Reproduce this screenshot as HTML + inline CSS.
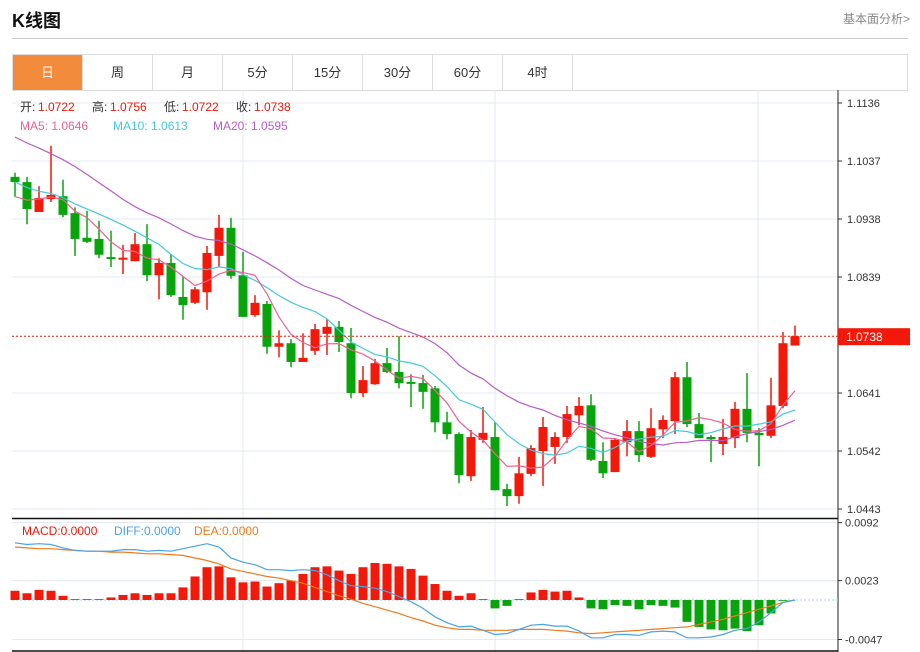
<!DOCTYPE html>
<html><head><meta charset="utf-8"><style>
body{margin:0;width:920px;height:652px;overflow:hidden;background:#fff;font-family:"Liberation Sans","Noto Sans CJK SC",sans-serif;position:relative}
.t{position:absolute}
#title{left:12px;top:7px;font-size:18px;font-weight:bold;color:#111}
#more{right:10px;top:10px;font-size:12px;color:#888}
#hr{left:12px;top:38px;width:896px;height:1px;background:#ccc}
#tabs{left:12px;top:54px;width:894px;height:35px;border:1px solid #ddd;display:flex}
.tab{width:69px;border-right:1px solid #ddd;text-align:center;line-height:35px;font-size:13px;color:#333}
.tab.on{background:#f28c3c;color:#fff}
svg{position:absolute;left:0;top:0}
</style></head><body>
<div class="t" id="title">K线图</div>
<div class="t" id="more">基本面分析&gt;</div>
<div class="t" id="hr"></div>
<div class="t" id="tabs">
<div class="tab on">日</div>
<div class="tab">周</div>
<div class="tab">月</div>
<div class="tab">5分</div>
<div class="tab">15分</div>
<div class="tab">30分</div>
<div class="tab">60分</div>
<div class="tab">4时</div>
</div>
<svg id="chart" width="920" height="652"></svg>
<script>
const opens=[1.1010,1.1001,1.0950,1.0972,1.0977,1.0948,1.0906,1.0904,1.0873,1.0871,1.0866,1.0895,1.0842,1.0863,1.0805,1.0795,1.0813,1.0875,1.0923,1.0842,1.0774,1.0793,1.0720,1.0726,1.0694,1.0713,1.0742,1.0754,1.0726,1.0641,1.0656,1.0692,1.0677,1.0660,1.0658,1.0649,1.0591,1.0571,1.0499,1.0561,1.0566,1.0477,1.0465,1.0503,1.0542,1.0549,1.0566,1.0603,1.0620,1.0525,1.0506,1.0557,1.0576,1.0532,1.0579,1.0593,1.0668,1.0588,1.0566,1.0554,1.0564,1.0614,1.0573,1.0568,1.0619,1.0722];
const highs=[1.1017,1.1010,1.0994,1.1063,1.1005,1.0958,1.0952,1.0935,1.0918,1.0894,1.0914,1.0929,1.0871,1.0878,1.0839,1.0822,1.0892,1.0945,1.0940,1.0882,1.0808,1.0798,1.0748,1.0733,1.0743,1.0759,1.0767,1.0764,1.0752,1.0687,1.0699,1.0718,1.0738,1.0673,1.0672,1.0653,1.0609,1.0574,1.0578,1.0617,1.0591,1.0486,1.0532,1.0552,1.0600,1.0574,1.0619,1.0634,1.0639,1.0557,1.0564,1.0595,1.0593,1.0615,1.0603,1.0677,1.0694,1.0607,1.0569,1.0597,1.0626,1.0675,1.0581,1.0667,1.0745,1.0756];
const lows=[1.0976,1.0929,1.0950,1.0967,1.0941,1.0875,1.0897,1.0871,1.0856,1.0844,1.0866,1.0832,1.0801,1.0805,1.0766,1.0793,1.0783,1.0856,1.0836,1.0771,1.0771,1.0708,1.0702,1.0685,1.0694,1.0706,1.0706,1.0711,1.0632,1.0634,1.0655,1.0675,1.0649,1.0617,1.0614,1.0574,1.0562,1.0487,1.0491,1.0556,1.0475,1.0448,1.0452,1.0499,1.0482,1.0520,1.0556,1.0586,1.0525,1.0496,1.0506,1.0533,1.0523,1.0530,1.0564,1.0571,1.0583,1.0564,1.0523,1.0535,1.0547,1.0557,1.0516,1.0564,1.0615,1.0722];
const closes=[1.1001,1.0955,1.0974,1.0979,1.0945,1.0904,1.0899,1.0877,1.0870,1.0872,1.0895,1.0842,1.0863,1.0808,1.0791,1.0818,1.0880,1.0923,1.0841,1.0771,1.0795,1.0720,1.0726,1.0694,1.0701,1.0750,1.0754,1.0728,1.0641,1.0663,1.0692,1.0677,1.0658,1.0658,1.0643,1.0591,1.0571,1.0501,1.0566,1.0573,1.0475,1.0465,1.0504,1.0547,1.0583,1.0566,1.0605,1.0619,1.0527,1.0504,1.0561,1.0576,1.0535,1.0581,1.0595,1.0668,1.0588,1.0564,1.0562,1.0566,1.0614,1.0573,1.0569,1.0620,1.0726,1.0738];
const priorCloses=[1.1160,1.1148,1.1170,1.1152,1.1140,1.1165,1.1158,1.1150,1.1162,1.1145,1.1050,1.1035,1.1020,1.1015,1.1010,1.0985,1.0965,1.0960,1.0970];
const priceTicks=[1.1136,1.1037,1.0938,1.0839,1.0641,1.0542,1.0443];
const macdHist=[0.0011,0.0008,0.0012,0.0011,0.0005,0.0001,0.0001,0.0001,0.0003,0.0006,0.0008,0.0006,0.0008,0.0008,0.0015,0.0028,0.0039,0.0040,0.0027,0.0021,0.0022,0.0016,0.0020,0.0023,0.0031,0.0039,0.0040,0.0035,0.0031,0.0039,0.0044,0.0043,0.0040,0.0037,0.0029,0.0019,0.0011,0.0005,0.0008,0.0001,-0.0010,-0.0007,0.0001,0.0009,0.0012,0.0010,0.0011,0.0003,-0.0010,-0.0011,-0.0006,-0.0007,-0.0011,-0.0006,-0.0007,-0.0009,-0.0026,-0.0032,-0.0035,-0.0036,-0.0034,-0.0037,-0.0030,-0.0016,-0.0001,0.0000];
const deaVals=[0.0063,0.0062,0.0061,0.0061,0.0060,0.0059,0.0058,0.0058,0.0057,0.0057,0.0056,0.0055,0.0055,0.0054,0.0053,0.0050,0.0047,0.0043,0.0037,0.0034,0.0031,0.0028,0.0026,0.0023,0.0020,0.0015,0.0010,0.0005,0.0001,-0.0004,-0.0008,-0.0012,-0.0016,-0.0021,-0.0025,-0.0030,-0.0033,-0.0035,-0.0035,-0.0036,-0.0036,-0.0036,-0.0035,-0.0035,-0.0035,-0.0036,-0.0037,-0.0039,-0.0040,-0.0039,-0.0038,-0.0037,-0.0036,-0.0035,-0.0034,-0.0033,-0.0032,-0.0029,-0.0026,-0.0023,-0.0019,-0.0015,-0.0011,-0.0007,-0.0003,0.0000];
const diffVals=[0.0068,0.0066,0.0067,0.0066,0.0062,0.0059,0.0058,0.0058,0.0058,0.0060,0.0060,0.0058,0.0059,0.0058,0.0061,0.0064,0.0067,0.0063,0.0050,0.0045,0.0042,0.0036,0.0036,0.0035,0.0036,0.0035,0.0030,0.0023,0.0017,0.0016,0.0014,0.0010,0.0004,-0.0002,-0.0010,-0.0020,-0.0027,-0.0032,-0.0031,-0.0036,-0.0041,-0.0040,-0.0035,-0.0030,-0.0029,-0.0031,-0.0031,-0.0037,-0.0045,-0.0045,-0.0041,-0.0041,-0.0042,-0.0038,-0.0037,-0.0038,-0.0045,-0.0045,-0.0044,-0.0041,-0.0036,-0.0034,-0.0026,-0.0015,-0.0003,0.0000];
const macdTicks=[0.0092,0.0023,-0.0047];
const lastPrice=1.0738;

const NS='http://www.w3.org/2000/svg';
const svg=document.getElementById('chart');
function mk(tag,attrs,parent){const e=document.createElementNS(NS,tag);for(const k in attrs)e.setAttribute(k,attrs[k]);(parent||svg).appendChild(e);return e;}
const xAt=i=>15+12*i;
const yP=p=>103+(1.1136-p)*5859;
const yM=v=>600-v*8406;
const RED='#f2180a',GREEN='#07a50b';

// grid
[243,495,758].forEach(x=>{const l=mk('line',{x1:x,y1:90,x2:x,y2:652,stroke:'#e3eaf1'});

});
priceTicks.forEach(p=>{const y=yP(p);
const g=mk('line',{x1:12,y1:y,x2:838,y2:y,stroke:'#e3eaf1'});


mk('line',{x1:838,y1:y,x2:842,y2:y,stroke:'#333'});
const t=mk('text',{x:847,y:y+4,'font-size':11,fill:'#333'});t.textContent=p.toFixed(4);

});
macdTicks.forEach(v=>{const y=yM(v);
const g=mk('line',{x1:12,y1:y,x2:838,y2:y,stroke:'#e3eaf1'});


mk('line',{x1:838,y1:y,x2:842,y2:y,stroke:'#333'});
const t=mk('text',{x:845,y:y+4,'font-size':11,fill:'#333'});t.textContent=v.toFixed(4);

});
mk('line',{x1:838,y1:90,x2:838,y2:652,stroke:'#222'});
mk('line',{x1:12,y1:518.5,x2:838,y2:518.5,stroke:'#111','stroke-width':1.5});
mk('line',{x1:12,y1:651,x2:838,y2:651,stroke:'#111','stroke-width':1.5});

// MAs
const all=priorCloses.concat(closes);
function ma(n){return closes.map((c,i)=>{const j=i+priorCloses.length;let s=0;for(let k=j-n+1;k<=j;k++)s+=all[k];return s/n;});}
function line(vals,yf,color,name){const pts=vals.map((v,i)=>xAt(i)+','+yf(v).toFixed(1)).join(' ');
const l=mk('polyline',{points:pts,fill:'none',stroke:color,'stroke-width':1.2});

}

// candles
closes.forEach((c,i)=>{const o=opens[i],up=c>=o,col=up?RED:GREEN,x=xAt(i);
const g=mk('g',{});


mk('line',{x1:x,y1:yP(highs[i]),x2:x,y2:yP(lows[i]),stroke:col,'stroke-width':1.5},g);
const t=Math.min(yP(o),yP(c)),h=Math.max(2,Math.abs(yP(o)-yP(c)));
mk('rect',{x:x-4.5,y:t,width:9,height:h,fill:col},g);});
line(ma(20),yP,'#b85cc8','ma20-line');
line(ma(10),yP,'#45c8dc','ma10-line');
line(ma(5),yP,'#ef6190','ma5-line');

// last price
const ly=yP(lastPrice);
const lp=mk('line',{x1:12,y1:ly,x2:838,y2:ly,stroke:RED,'stroke-dasharray':'2,2'});


const lb=mk('rect',{x:838,y:ly-8,width:72,height:17,fill:RED});


const lt=mk('text',{x:846,y:ly+5,'font-size':12,fill:'#fff'});lt.textContent=lastPrice.toFixed(4);



// MACD
mk('line',{x1:12,y1:yM(0),x2:838,y2:yM(0),stroke:'#9cd3e8','stroke-dasharray':'2,2'});
macdHist.forEach((v,i)=>{const y=yM(v),y0=yM(0);
const r=mk('rect',{x:xAt(i)-4.5,y:Math.min(y,y0),width:9,height:Math.abs(y-y0),fill:v>=0?RED:GREEN});

});
line(deaVals,yM,'#f07a1c','dea-line');
line(diffVals,yM,'#4aa3e8','diff-line');

// legends
function txt(x,y,s,col,name){const t=mk('text',{x:x,y:y,'font-size':12,fill:col});t.textContent=s;

return t;}
txt(20,111,'开:','#333','open-label');txt(38,111,'1.0722',RED,'open-value');
txt(92,111,'高:','#333','high-label');txt(110,111,'1.0756',RED,'high-value');
txt(164,111,'低:','#333','low-label');txt(182,111,'1.0722',RED,'low-value');
txt(236,111,'收:','#333','close-label');txt(254,111,'1.0738',RED,'close-value');
txt(20,130,'MA5: 1.0646','#ef6190','ma5-legend');
txt(113,130,'MA10: 1.0613','#45c8dc','ma10-legend');
txt(213,130,'MA20: 1.0595','#b85cc8','ma20-legend');
txt(22,535,'MACD:0.0000',RED,'macd-legend');
txt(114,535,'DIFF:0.0000','#4aa3e8','diff-legend');
txt(194,535,'DEA:0.0000','#f07a1c','dea-legend');
</script>
</body></html>
